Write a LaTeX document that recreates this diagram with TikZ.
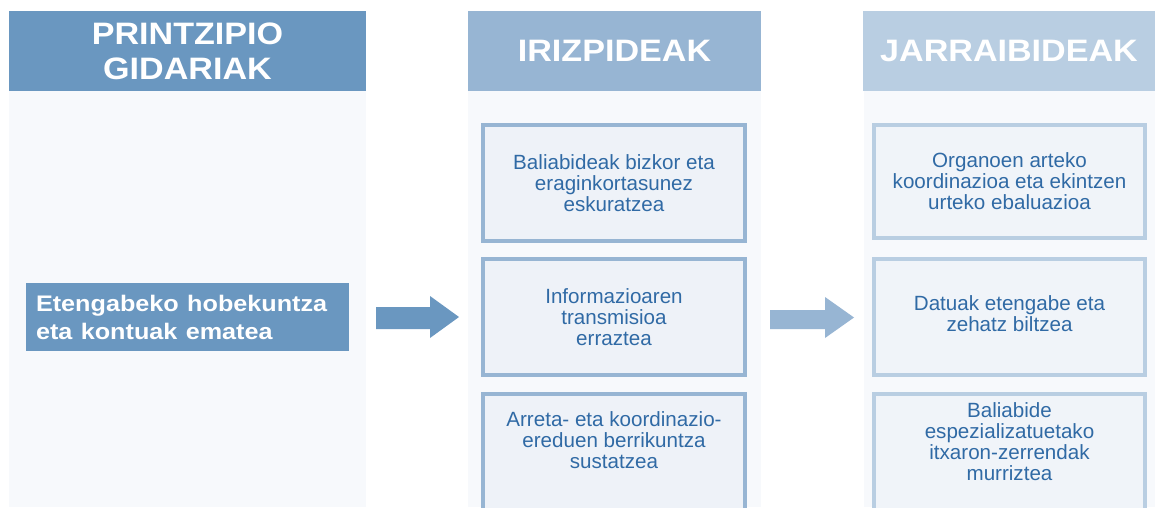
\documentclass[tikz,border=0pt]{standalone}
\usepackage{fontspec}
\setmainfont{Liberation Sans}
\usetikzlibrary{positioning}
\definecolor{hdrA}{HTML}{6A97C0}
\definecolor{hdrB}{HTML}{97B5D3}
\definecolor{hdrC}{HTML}{B9CEE2}
\definecolor{panelbg}{HTML}{F7F9FC}
\definecolor{boxfillB}{HTML}{EEF2F8}
\definecolor{boxfillC}{HTML}{F0F4F9}
\definecolor{txtblue}{HTML}{306AA5}
\newcommand{\hs}[1]{\scalebox{1.1}[1]{#1}}
\newcommand{\ls}[1]{\scalebox{1.12}[1]{#1}}
\begin{document}
\begin{tikzpicture}[x=1pt,y=-1pt,
  header/.style={fill=#1, draw=none, inner sep=0pt, text=white,
    font=\fontsize{31}{35}\selectfont\bfseries, align=center, minimum height=80pt},
  panel/.style={fill=panelbg, draw=none, inner sep=0pt},
  ibox/.style={draw=#1, line width=4pt, inner sep=0pt},
  btext/.style={text=txtblue, font=\fontsize{20.6}{21}\selectfont, align=center, inner sep=0pt},
  lbox/.style={fill=hdrA, draw=none, text=white, font=\fontsize{22.5}{28}\selectfont\bfseries,
    align=left, text width=303pt, inner xsep=10pt, inner ysep=0pt, minimum height=68pt},
  blockarrow/.style={fill=#1, draw=none}
]
\useasboundingbox (0,0) rectangle (1155,507);
\fill[white] (0,0) rectangle (1155,507);

% panels
\node[panel, minimum width=357pt, minimum height=416pt] (p1) at (187.5,299) {};
\node[panel, minimum width=293pt, minimum height=416pt] (p2) at (614.5,299) {};
\node[panel, minimum width=291pt, minimum height=416pt] (p3) at (1009.5,299) {};

% headers
\node[header=hdrA, minimum width=357pt] (h1) at (187.5,51) {\hs{PRINTZIPIO}\\\hs{GIDARIAK}};
\node[header=hdrB, minimum width=293pt] (h2) at (614.5,51) {\hs{IRIZPIDEAK}};
\node[header=hdrC, minimum width=292pt] (h3) at (1009,51) {\hs{JARRAIBIDEAK}};

% left box
\node[lbox, minimum width=323pt] (l1) at (187.5,317) {\ls{Etengabeko hobekuntza}\\\ls{eta kontuak ematea}};

% column 2 boxes
\node[ibox=hdrB, fill=boxfillB, minimum width=262pt, minimum height=116pt] (b21) at (614,183) {};
\node[btext] at (b21.center) {Baliabideak bizkor eta\\eraginkortasunez\\eskuratzea};
\node[ibox=hdrB, fill=boxfillB, minimum width=262pt, minimum height=116pt] (b22) at (614,317) {};
\node[btext] at (b22.center) {Informazioaren\\transmisioa\\erraztea};
\node[ibox=hdrB, fill=boxfillB, minimum width=262pt, minimum height=116pt] (b23) at (614,452) {};
\node[btext] at ([yshift=12pt]b23.center) {Arreta- eta koordinazio-\\ereduen berrikuntza\\sustatzea};

% column 3 boxes
\node[ibox=hdrC, fill=boxfillC, minimum width=271pt, minimum height=113pt] (b31) at (1009.5,181.5) {};
\node[btext] at (b31.center) {Organoen arteko\\koordinazioa eta ekintzen\\urteko ebaluazioa};
\node[ibox=hdrC, fill=boxfillC, minimum width=271pt, minimum height=116pt] (b32) at (1009.5,317) {};
\node[btext] at ([yshift=3pt]b32.center) {Datuak etengabe eta\\zehatz biltzea};
\node[ibox=hdrC, fill=boxfillC, minimum width=271pt, minimum height=116pt] (b33) at (1009.5,452) {};
\node[btext] at ([yshift=10pt]b33.center) {Baliabide\\espezializatuetako\\itxaron-zerrendak\\murriztea};

% block arrows
\fill[blockarrow=hdrA] (376,307) -- (430,307) -- (430,296) -- (459,317) -- (430,338) -- (430,329) -- (376,329) -- cycle;
\fill[blockarrow=hdrB] (770,310) -- (825,310) -- (825,297) -- (854,317.5) -- (825,338) -- (825,329) -- (770,329) -- cycle;
\end{tikzpicture}
\end{document}
